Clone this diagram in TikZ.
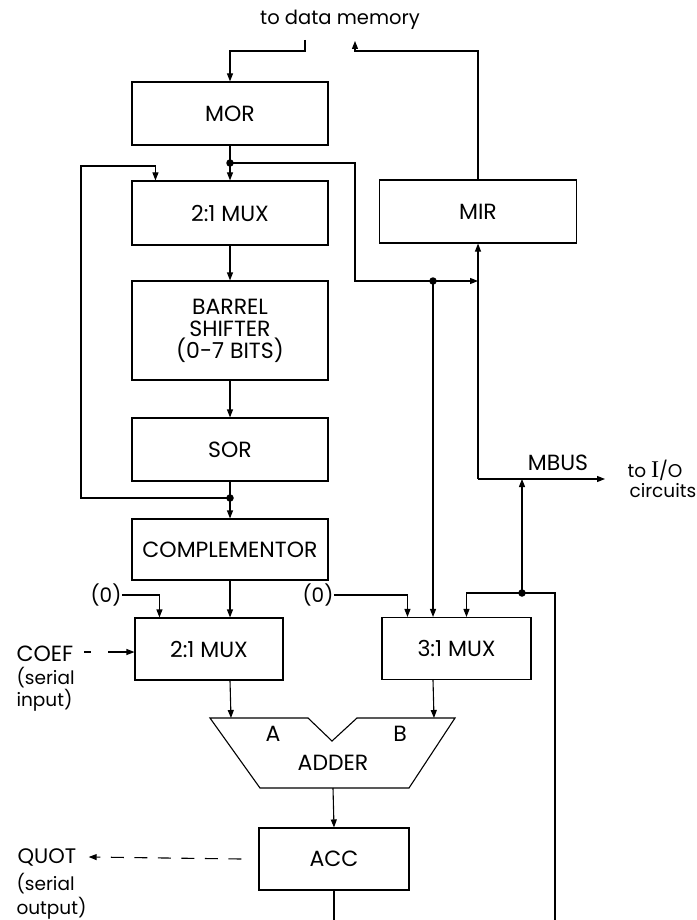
\documentclass[tikz,border=0pt]{standalone}
\usepackage{fontspec}
\setmainfont{Poppins}
\newfontfamily\serifI{Liberation Serif}
\usetikzlibrary{arrows.meta,calc}
\newcommand\dlbl{\fontsize{22}{22}\selectfont}
\newcommand\dsml{\fontsize{18.5}{20}\selectfont}
\begin{document}
\begin{tikzpicture}[x=1pt,y=-1pt,line width=1.1pt,
  box/.style={draw,rectangle,inner sep=0pt,align=center,font=\dlbl},
  lbl/.style={inner sep=0pt,font=\dlbl},
  sml/.style={inner sep=0pt,font=\dsml},
  arr/.style={-{Triangle[length=8pt,width=6pt]}},
  dot/.style={circle,fill,inner sep=0pt,minimum size=7.5pt}]
\useasboundingbox (0,0) rectangle (696,920);
\fill[white] (0,0) rectangle (696,920);
% boxes
\node[box,minimum width=196pt,minimum height=63pt] (MOR) at (230,113.5) {MOR};
\node[box,minimum width=196pt,minimum height=64pt] (mux1) at (230,213) {2:1 MUX};
\node[box,minimum width=197pt,minimum height=63pt] (MIR) at (478,211.5) {MIR};
\node[box,minimum width=196pt,minimum height=99pt] (barrel) at (230,330.5) {BARREL\\SHIFTER\\(0-7 BITS)};
\node[box,minimum width=196pt,minimum height=63pt] (SOR) at (230,449.5) {SOR};
\node[box,minimum width=196pt,minimum height=61pt] (comp) at (230,549.5) {COMPLEMENTOR};
\node[box,minimum width=148pt,minimum height=62pt] (mux2) at (209,649) {2:1 MUX};
\node[box,minimum width=149pt,minimum height=62pt] (mux3) at (456.5,648.5) {3:1 MUX};
\node[box,minimum width=150pt,minimum height=62pt] (ACC) at (334,859) {ACC};
% adder
\draw (210,718) -- (308,718) -- (332,741) -- (357,718) -- (455,718) -- (409,788) -- (260,788) -- cycle;
\node[lbl] (adder) at (333,763) {ADDER};
\node[lbl] (lA) at (273,734) {A};
\node[lbl] (lB) at (400,734) {B};
\coordinate (adA) at (231,718);
\coordinate (adB) at (434,718);
\coordinate (adOut) at (333,788);
% labels
\node[sml,font=\fontsize{19.5}{20}\selectfont] (tdm) at (340,20) {to data memory};
\coordinate (tdmL) at (305,40);
\coordinate (tdmR) at (355,41);
\node[lbl] (mbus) at (558,463) {MBUS};
\node[sml,anchor=base west] (io1) at (627,477) {to {\serifI\fontsize{24}{20}\selectfont I}/O};
\node[sml,anchor=base west] (io2) at (629,497) {circuits};
\node[lbl,font=\fontsize{20}{20}\selectfont] (zeroL) at (106,595) {(0)};
\node[lbl,font=\fontsize{20}{20}\selectfont] (zeroR) at (318,595) {(0)};
\node[lbl,anchor=base west] (coef1) at (16,661) {COEF};
\node[sml,anchor=base west] (coef2) at (16,684) {(serial};
\node[sml,anchor=base west] (coef3) at (16,706) {input)};
\node[lbl,font=\fontsize{21}{21}\selectfont,anchor=base west] (quot1) at (17,863) {QUOT};
\node[sml,anchor=base west] (quot2) at (16,890) {(serial};
\node[sml,anchor=base west] (quot3) at (16,914) {output)};
% junctions
\coordinate (d1) at (230,163);
\coordinate (d2) at (433,281);
\coordinate (d3) at (522,593);
\coordinate (d4) at (230,498);
\coordinate (mbusL) at (478,479);
\coordinate (mbusR) at (605,479);
\coordinate (bottomR) at (555,920);
% connectors
\draw[arr] (tdmL) -- ++(0,11) -| (MOR.north);
\draw[arr] (MIR.north) |- ($(tdmR)+(0,10)$) -- (tdmR);
\draw[arr] (MOR.south) -- (mux1.north);
\draw[arr] (d1) -| (355,281) -- (mbusL |- d2);
\draw[arr] (d2) -- (d2 |- mux3.north);
\draw[arr] (mux1.south) -- (barrel.north);
\draw[arr] (barrel.south) -- (SOR.north);
\draw[arr] (SOR.south) -- (comp.north);
\draw[arr] (d4) -| (81,166) -| ($(mux1.north west)+(24,0)$);
\draw[arr] (mbusL) -- (mbusL |- MIR.south);
\draw[arr] (mbusL) -- (mbusR);
\draw[arr] (d3) -- (d3 |- mbusL);
\draw[arr] (d3) -| ($(mux3.north west)+(85,0)$);
\draw (d3) -| (bottomR);
\draw[arr] (zeroL.east) -| ($(mux2.north west)+(25,0)$);
\draw[arr] (zeroR.east) -| ($(mux3.north west)+(26,0)$);
\draw[arr] (comp.south) -- (comp.south |- mux2.north);
\draw[arr,dash pattern=on 7pt off 17pt on 40pt] ($(mux2.west)+(-50,3)$) -- ($(mux2.west)+(0,3)$);
\draw[arr] (comp.south |- mux2.south) -- (adA);
\draw[arr] (d2 |- mux3.south) -- (adB);
\draw[arr] (adOut) -- (ACC.north);
\draw[arr,dash pattern=on 13pt off 10.5pt] ($(ACC.west)+(-17,0)$) -- ($(quot1.east)+(12,0)$);
\draw (ACC.south) -- (ACC.south |- bottomR);
% dots
\node[dot] at (d1) {};
\node[dot] at (d2) {};
\node[dot] at (d3) {};
\node[dot] at (d4) {};
\end{tikzpicture}
\end{document}
